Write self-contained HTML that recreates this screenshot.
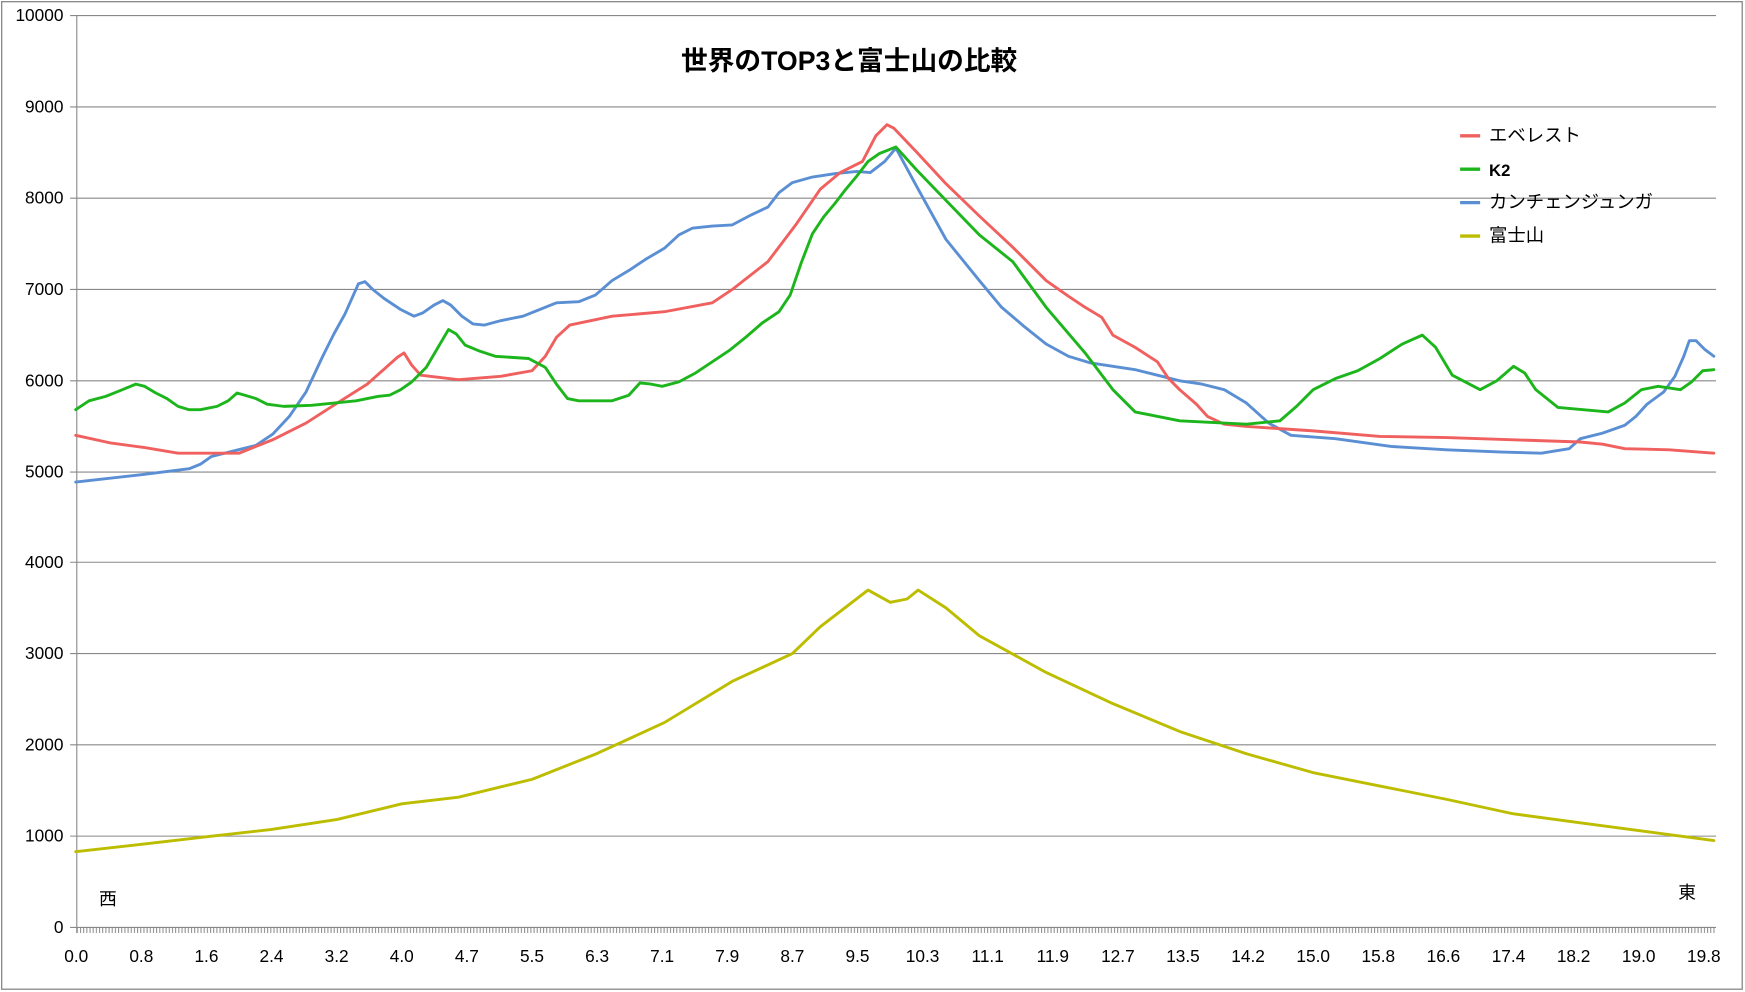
<!DOCTYPE html>
<html><head><meta charset="utf-8"><style>html,body{margin:0;padding:0;background:#fff}svg{display:block}</style></head>
<body>
<svg width="1745" height="992" viewBox="0 0 1568 891" preserveAspectRatio="none" xmlns="http://www.w3.org/2000/svg" font-family="'Liberation Sans','Noto Sans CJK JP',sans-serif">
<defs>
<pattern id="tk" x="69" y="0" width="2.85" height="10" patternUnits="userSpaceOnUse"><line x1="0.5" y1="0" x2="0.5" y2="10" stroke="#888" stroke-width="0.9"/></pattern>
</defs>
<rect x="1.5" y="1.5" width="1564" height="887" fill="#fff" stroke="#8a8a8a" stroke-width="1.2"/>
<g stroke="#888" stroke-width="1">
<line x1="63" y1="14" x2="1542" y2="14"/><line x1="63" y1="96" x2="1542" y2="96"/><line x1="63" y1="178" x2="1542" y2="178"/><line x1="63" y1="260" x2="1542" y2="260"/><line x1="63" y1="342" x2="1542" y2="342"/><line x1="63" y1="424" x2="1542" y2="424"/><line x1="63" y1="505" x2="1542" y2="505"/><line x1="63" y1="587" x2="1542" y2="587"/><line x1="63" y1="669" x2="1542" y2="669"/><line x1="63" y1="751" x2="1542" y2="751"/><line x1="63" y1="833" x2="1542" y2="833"/>
<line x1="69" y1="14" x2="69" y2="838"/>
</g>
<rect x="69" y="833" width="1473" height="5" fill="url(#tk)"/>
<g font-size="15.5" fill="#000" text-anchor="end">
<text x="57" y="19">10000</text><text x="57" y="101">9000</text><text x="57" y="183">8000</text><text x="57" y="265">7000</text><text x="57" y="347">6000</text><text x="57" y="429">5000</text><text x="57" y="510">4000</text><text x="57" y="592">3000</text><text x="57" y="674">2000</text><text x="57" y="756">1000</text><text x="57" y="838">0</text>
</g>
<g font-size="15.5" fill="#000" text-anchor="middle">
<text x="68.5" y="864">0.0</text><text x="127" y="864">0.8</text><text x="185.5" y="864">1.6</text><text x="244" y="864">2.4</text><text x="302.5" y="864">3.2</text><text x="361" y="864">4.0</text><text x="419.5" y="864">4.7</text><text x="478" y="864">5.5</text><text x="536.5" y="864">6.3</text><text x="595" y="864">7.1</text><text x="653.5" y="864">7.9</text><text x="712" y="864">8.7</text><text x="770.5" y="864">9.5</text><text x="829" y="864">10.3</text><text x="887.5" y="864">11.1</text><text x="946" y="864">11.9</text><text x="1004.5" y="864">12.7</text><text x="1063" y="864">13.5</text><text x="1121.5" y="864">14.2</text><text x="1180" y="864">15.0</text><text x="1238.5" y="864">15.8</text><text x="1297" y="864">16.6</text><text x="1355.5" y="864">17.4</text><text x="1414" y="864">18.2</text><text x="1472.5" y="864">19.0</text><text x="1531" y="864">19.8</text>
</g>
<text x="763" y="63" font-size="24" font-weight="bold" text-anchor="middle">世界のTOP3と富士山の比較</text>
<text x="89" y="813" font-size="16">西</text>
<text x="1508" y="807" font-size="16">東</text>
<g fill="none" stroke-width="2.6" stroke-linejoin="round" stroke-linecap="round">
<polyline stroke="#bdbd00" points="68,765 130,758 190,751 244,745 303,736 361,722 412,716 478,700 536,677 597,649 658,612 712,587 737,563 780,530 800,541 815,538 825,530 850,546 880,571 940,604 1000,632 1060,657 1120,677 1180,694 1240,706 1300,718 1360,731 1420,739 1480,747 1540,755"/>
<polyline stroke="#5b8fd4" points="68,433 130,426 170,421 180,417 190,410 210,405 230,400 245,390 260,374 275,352 290,320 300,300 310,282 318,264 322,255 328,253 335,260 345,268 360,278 372,284 380,281 390,274 398,270 405,274 415,284 425,291 435,292 450,288 470,284 485,278 500,272 520,271 535,265 550,252 565,243 580,233 597,223 610,211 622,205 640,203 658,202 675,193 690,186 700,173 712,164 730,159 750,156 770,154 782,155 795,145 805,133 824,168 850,215 880,252 900,276 920,293 940,309 960,320 980,326 1000,329 1020,332 1040,337 1060,342 1080,345 1100,350 1120,362 1140,380 1160,391 1200,394 1250,401 1300,404 1350,406 1385,407 1410,403 1420,394 1440,389 1460,382 1470,374 1480,363 1495,352 1505,338 1513,320 1518,306 1524,306 1532,314 1540,320"/>
<polyline stroke="#f0605f" points="68,391 100,398 130,402 160,407 215,407 245,395 275,380 303,362 330,345 357,321 363,317 370,328 378,337 412,341 450,338 478,333 490,320 500,303 512,292 550,284 597,280 640,272 658,260 690,235 715,202 737,170 755,155 775,145 787,122 797,112 803,115 824,137 850,165 880,194 910,222 940,252 960,266 975,276 990,285 1000,301 1020,312 1040,325 1050,340 1060,350 1075,363 1085,374 1100,381 1120,383 1180,387 1240,392 1300,393 1360,395 1420,397 1440,399 1460,403 1500,404 1540,407"/>
<polyline stroke="#1cb51c" points="68,368 80,360 95,356 110,350 122,345 130,347 140,353 150,358 160,365 170,368 180,368 195,365 205,360 213,353 220,355 230,358 240,363 255,365 280,364 300,362 320,360 340,356 350,355 360,350 370,343 383,330 393,313 403,296 410,300 418,310 430,315 445,320 475,322 490,330 500,345 510,358 520,360 550,360 565,355 575,344 585,345 595,347 610,343 625,335 640,325 655,315 670,303 685,290 700,280 710,265 720,236 730,210 740,195 750,183 760,170 770,158 780,145 790,138 800,134 805,132 824,153 850,180 880,211 910,235 940,276 975,317 1000,350 1020,370 1060,378 1120,381 1150,378 1165,365 1180,350 1200,340 1220,333 1240,322 1260,309 1278,301 1290,312 1305,337 1330,350 1345,342 1360,329 1370,335 1380,350 1400,366 1445,370 1460,362 1475,350 1490,347 1510,350 1520,343 1530,333 1540,332"/>
</g>
<g stroke-width="3">
<line x1="1312" y1="122" x2="1330" y2="122" stroke="#f0605f"/>
<line x1="1312" y1="152" x2="1330" y2="152" stroke="#1cb51c"/>
<line x1="1312" y1="182" x2="1330" y2="182" stroke="#5b8fd4"/>
<line x1="1312" y1="212" x2="1330" y2="212" stroke="#bdbd00"/>
</g>
<g font-size="16.5" fill="#000">
<text x="1338" y="127">エベレスト</text>
<text x="1338" y="158" font-weight="bold" font-size="15">K2</text>
<text x="1338" y="187">カンチェンジュンガ</text>
<text x="1338" y="217">富士山</text>
</g>
</svg>
</body></html>
